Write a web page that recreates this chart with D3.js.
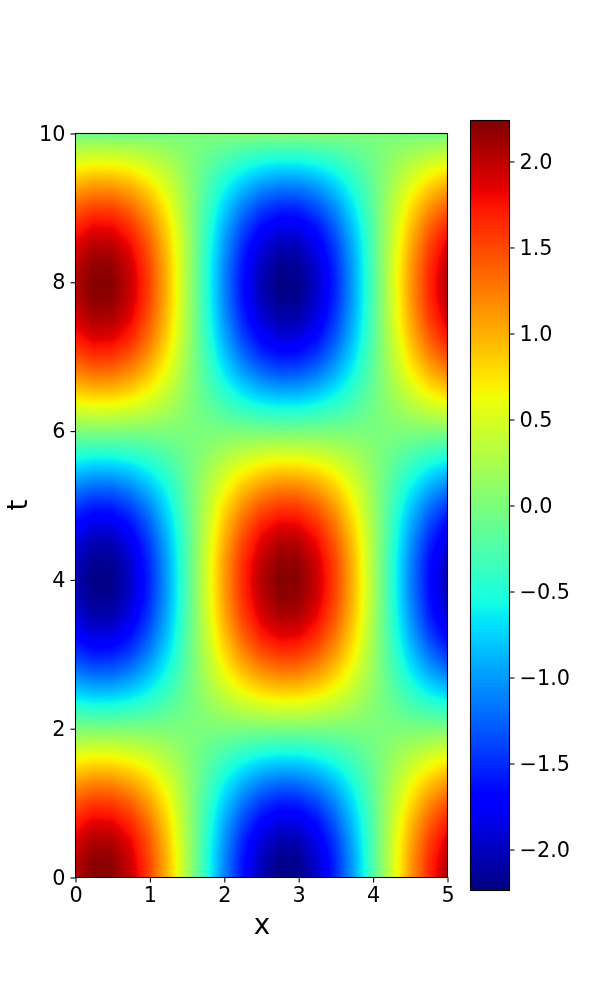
<!DOCTYPE html>
<html>
<head>
<meta charset="utf-8">
<script src="https://cdnjs.cloudflare.com/ajax/libs/d3/7.8.5/d3.min.js"></script>
<style>
  html, body { margin: 0; padding: 0; background: #fff; }
  #chart { position: relative; width: 600px; height: 1000px; }
  #chart canvas, #chart svg { position: absolute; left: 0; top: 0; }
  text { font-family: "DejaVu Sans", sans-serif; fill: #000; }
</style>
</head>
<body>
<div id="chart"></div>
<script>
const xGrid = [0, 0.25, 0.5, 0.75, 1, 1.25, 1.5, 1.75, 2, 2.25, 2.5, 2.75, 3, 3.25, 3.5, 3.75, 4, 4.25, 4.5, 4.75, 5];
const tGrid = d3.range(41).map(k => k / 4);
const xTicks = [0, 1, 2, 3, 4, 5];
const tTicks = [0, 2, 4, 6, 8, 10];
const barTicks = [-2, -1.5, -1, -0.5, 0, 0.5, 1, 1.5, 2];
const valueRange = [-2.238, 2.238];

// one row per t, bottom of the plot first
const field = [
  [2.03,2.22,2.20,1.96,1.53,.95,.28,-.42,-1.08,-1.63,-2.03,-2.22,-2.20,-1.96,-1.53,-.95,-.28,.42,1.08,1.63,2.03],
  [1.99,2.18,2.16,1.92,1.50,.94,.27,-.41,-1.06,-1.60,-1.99,-2.18,-2.16,-1.92,-1.50,-.94,-.27,.41,1.06,1.60,1.99],
  [1.87,2.05,2.03,1.81,1.42,.88,.26,-.39,-1.00,-1.51,-1.87,-2.05,-2.03,-1.81,-1.42,-.88,-.26,.39,1.00,1.51,1.87],
  [1.68,1.84,1.82,1.63,1.27,.79,.23,-.35,-.90,-1.35,-1.68,-1.84,-1.82,-1.63,-1.27,-.79,-.23,.35,.90,1.35,1.68],
  [1.43,1.57,1.55,1.38,1.08,.67,.20,-.30,-.76,-1.15,-1.43,-1.57,-1.55,-1.38,-1.08,-.67,-.20,.30,.76,1.15,1.43],
  [1.12,1.23,1.21,1.08,.85,.53,.15,-.23,-.60,-.90,-1.12,-1.23,-1.21,-1.08,-.85,-.53,-.15,.23,.60,.90,1.12],
  [.77,.84,.83,.74,.58,.36,.11,-.16,-.41,-.62,-.77,-.84,-.83,-.74,-.58,-.36,-.11,.16,.41,.62,.77],
  [.38,.42,.42,.37,.29,.18,.05,-.08,-.20,-.31,-.38,-.42,-.42,-.37,-.29,-.18,-.05,.08,.20,.31,.38],
  [-.01,-.02,-.02,-.01,-.01,-.01,0,0,.01,.01,.01,.02,.02,.01,.01,.01,0,0,-.01,-.01,-.01],
  [-.41,-.45,-.45,-.40,-.31,-.19,-.06,.08,.22,.33,.41,.45,.45,.40,.31,.19,.06,-.08,-.22,-.33,-.41],
  [-.79,-.87,-.86,-.77,-.60,-.37,-.11,.16,.42,.64,.79,.87,.86,.77,.60,.37,.11,-.16,-.42,-.64,-.79],
  [-1.14,-1.25,-1.24,-1.11,-.86,-.54,-.16,.24,.61,.92,1.14,1.25,1.24,1.11,.86,.54,.16,-.24,-.61,-.92,-1.14],
  [-1.45,-1.59,-1.57,-1.40,-1.09,-.68,-.20,.30,.77,1.16,1.45,1.59,1.57,1.40,1.09,.68,.20,-.30,-.77,-1.16,-1.45],
  [-1.70,-1.86,-1.84,-1.64,-1.28,-.80,-.23,.35,.90,1.37,1.70,1.86,1.84,1.64,1.28,.80,.23,-.35,-.90,-1.37,-1.70],
  [-1.88,-2.06,-2.04,-1.82,-1.42,-.89,-.26,.39,1.00,1.52,1.88,2.06,2.04,1.82,1.42,.89,.26,-.39,-1.00,-1.52,-1.88],
  [-1.99,-2.18,-2.16,-1.93,-1.51,-.94,-.28,.41,1.06,1.60,1.99,2.18,2.16,1.93,1.51,.94,.28,-.41,-1.06,-1.60,-1.99],
  [-2.03,-2.22,-2.20,-1.96,-1.53,-.95,-.28,.42,1.08,1.63,2.03,2.22,2.20,1.96,1.53,.95,.28,-.42,-1.08,-1.63,-2.03],
  [-1.98,-2.17,-2.15,-1.92,-1.50,-.93,-.27,.41,1.06,1.60,1.98,2.17,2.15,1.92,1.50,.93,.27,-.41,-1.06,-1.60,-1.98],
  [-1.86,-2.04,-2.02,-1.80,-1.41,-.88,-.26,.38,.99,1.50,1.86,2.04,2.02,1.80,1.41,.88,.26,-.38,-.99,-1.50,-1.86],
  [-1.67,-1.83,-1.81,-1.61,-1.26,-.78,-.23,.34,.89,1.34,1.67,1.83,1.81,1.61,1.26,.78,.23,-.34,-.89,-1.34,-1.67],
  [-1.41,-1.54,-1.53,-1.36,-1.07,-.66,-.19,.29,.75,1.13,1.41,1.54,1.53,1.36,1.07,.66,.19,-.29,-.75,-1.13,-1.41],
  [-1.09,-1.20,-1.19,-1.06,-.83,-.52,-.15,.23,.58,.88,1.09,1.20,1.19,1.06,.83,.52,.15,-.23,-.58,-.88,-1.09],
  [-.74,-.81,-.80,-.72,-.56,-.35,-.10,.15,.39,.60,.74,.81,.80,.72,.56,.35,.10,-.15,-.39,-.60,-.74],
  [-.35,-.39,-.38,-.34,-.27,-.17,-.05,.07,.19,.29,.35,.39,.38,.34,.27,.17,.05,-.07,-.19,-.29,-.35],
  [.04,.05,.05,.04,.03,.02,.01,-.01,-.02,-.03,-.04,-.05,-.05,-.04,-.03,-.02,-.01,.01,.02,.03,.04],
  [.44,.48,.47,.42,.33,.21,.06,-.09,-.23,-.35,-.44,-.48,-.47,-.42,-.33,-.21,-.06,.09,.23,.35,.44],
  [.82,.89,.89,.79,.62,.38,.11,-.17,-.43,-.66,-.82,-.89,-.89,-.79,-.62,-.38,-.11,.17,.43,.66,.82],
  [1.16,1.28,1.26,1.13,.88,.55,.16,-.24,-.62,-.94,-1.16,-1.28,-1.26,-1.13,-.88,-.55,-.16,.24,.62,.94,1.16],
  [1.47,1.61,1.59,1.42,1.11,.69,.20,-.30,-.78,-1.18,-1.47,-1.61,-1.59,-1.42,-1.11,-.69,-.20,.30,.78,1.18,1.47],
  [1.71,1.88,1.86,1.66,1.30,.81,.24,-.35,-.91,-1.38,-1.71,-1.88,-1.86,-1.66,-1.30,-.81,-.24,.35,.91,1.38,1.71],
  [1.89,2.07,2.05,1.83,1.43,.89,.26,-.39,-1.01,-1.52,-1.89,-2.07,-2.05,-1.83,-1.43,-.89,-.26,.39,1.01,1.52,1.89],
  [2.00,2.19,2.17,1.93,1.51,.94,.28,-.41,-1.06,-1.61,-2.00,-2.19,-2.17,-1.93,-1.51,-.94,-.28,.41,1.06,1.61,2.00],
  [2.03,2.22,2.20,1.96,1.53,.95,.28,-.42,-1.08,-1.63,-2.03,-2.22,-2.20,-1.96,-1.53,-.95,-.28,.42,1.08,1.63,2.03],
  [1.97,2.16,2.14,1.91,1.49,.93,.27,-.41,-1.05,-1.59,-1.97,-2.16,-2.14,-1.91,-1.49,-.93,-.27,.41,1.05,1.59,1.97],
  [1.85,2.02,2.00,1.79,1.40,.87,.26,-.38,-.98,-1.49,-1.85,-2.02,-2.00,-1.79,-1.40,-.87,-.26,.38,.98,1.49,1.85],
  [1.65,1.81,1.79,1.60,1.25,.78,.23,-.34,-.88,-1.33,-1.65,-1.81,-1.79,-1.60,-1.25,-.78,-.23,.34,.88,1.33,1.65],
  [1.39,1.52,1.51,1.34,1.05,.65,.19,-.29,-.74,-1.12,-1.39,-1.52,-1.51,-1.34,-1.05,-.65,-.19,.29,.74,1.12,1.39],
  [1.07,1.17,1.16,1.04,.81,.50,.15,-.22,-.57,-.86,-1.07,-1.17,-1.16,-1.04,-.81,-.50,-.15,.22,.57,.86,1.07],
  [.71,.78,.77,.69,.54,.34,.10,-.15,-.38,-.57,-.71,-.78,-.77,-.69,-.54,-.34,-.10,.15,.38,.57,.71],
  [.33,.36,.35,.32,.25,.15,.05,-.07,-.17,-.26,-.33,-.36,-.35,-.32,-.25,-.15,-.05,.07,.17,.26,.33],
  [-.07,-.08,-.08,-.07,-.05,-.03,-.01,.01,.04,.06,.07,.08,.08,.07,.05,.03,.01,-.01,-.04,-.06,-.07],
];

// jet colour map, channel break points
const jetR = { at: [0, 0.35, 0.66, 0.89, 1], to: [0, 0, 255, 255, 127.5] };
const jetG = { at: [0, 0.125, 0.375, 0.64, 0.91, 1], to: [0, 0, 255, 255, 0, 0] };
const jetB = { at: [0, 0.11, 0.34, 0.65, 1], to: [127.5, 255, 255, 0, 0] };

const plot = { left: 75.5, right: 447.5, top: 133.5, bottom: 877.5 };
const bar = { left: 470.5, right: 509.5, top: 120.5, bottom: 890.5 };

const xScale = d3.scaleLinear().domain([0, 5]).range([plot.left, plot.right]);
const tScale = d3.scaleLinear().domain([0, 10]).range([plot.bottom, plot.top]);
const barScale = d3.scaleLinear().domain(valueRange).range([bar.bottom, bar.top]);
const norm = d3.scaleLinear().domain(valueRange).range([0, 1]).clamp(true);
const r = d3.scaleLinear().domain(jetR.at).range(jetR.to);
const g = d3.scaleLinear().domain(jetG.at).range(jetG.to);
const b = d3.scaleLinear().domain(jetB.at).range(jetB.to);
const jet = f => [r(f), g(f), b(f)];

const chart = d3.select('#chart');

// heat map, shaded between grid nodes like a gouraud pcolormesh
const canvas = chart.append('canvas')
    .attr('width', 600)
    .attr('height', 1000);
const ctx = canvas.node().getContext('2d');
const pw = Math.round(plot.right - plot.left);
const ph = Math.round(plot.bottom - plot.top);
const img = ctx.createImageData(pw, ph);

function valueAt(x, t) {
  const i = Math.min(d3.bisectRight(xGrid, x) - 1, xGrid.length - 2);
  const j = Math.min(d3.bisectRight(tGrid, t) - 1, tGrid.length - 2);
  const u = (x - xGrid[i]) / (xGrid[i + 1] - xGrid[i]);
  const v = (t - tGrid[j]) / (tGrid[j + 1] - tGrid[j]);
  const low = d3.interpolateNumber(field[j][i], field[j][i + 1])(u);
  const high = d3.interpolateNumber(field[j + 1][i], field[j + 1][i + 1])(u);
  return d3.interpolateNumber(low, high)(v);
}

for (let py = 0; py < ph; py++) {
  for (let px = 0; px < pw; px++) {
    const x = xScale.invert(plot.left + px + 0.5);
    const t = tScale.invert(plot.top + py + 0.5);
    const c = jet(norm(valueAt(x, t)));
    const k = (py * pw + px) * 4;
    img.data[k] = c[0];
    img.data[k + 1] = c[1];
    img.data[k + 2] = c[2];
    img.data[k + 3] = 255;
  }
}
ctx.putImageData(img, plot.left, plot.top);

const svg = chart.append('svg')
    .attr('width', 600)
    .attr('height', 1000)
    .attr('viewBox', [0, 0, 600, 1000]);

// colour bar, 256 levels like the colormap
const levels = d3.range(256);
const levelY = d3.scaleLinear().domain([0, 256]).range([bar.bottom, bar.top]);
svg.append('g')
    .attr('shape-rendering', 'crispEdges')
  .selectAll('rect')
  .data(levels)
  .join('rect')
    .attr('x', bar.left)
    .attr('width', bar.right - bar.left)
    .attr('y', d => levelY(d + 1))
    .attr('height', d => levelY(d) - levelY(d + 1) + 0.5)
    .attr('fill', d => `rgb(${jet((d + 0.5) / 256).map(Math.round).join(',')})`);

function styleAxis(g) {
  g.selectAll('.tick line').attr('stroke', '#000').attr('stroke-width', 1.1);
  g.selectAll('.tick text')
    .style('font-family', '"DejaVu Sans", sans-serif')
    .style('font-size', '20.8px');
  g.select('.domain').remove();
}

svg.append('g')
    .attr('transform', `translate(0,${plot.bottom})`)
    .call(d3.axisBottom(xScale).tickValues(xTicks).tickSize(5).tickPadding(5).tickFormat(d3.format('d')))
    .call(styleAxis);

svg.append('g')
    .attr('transform', `translate(${plot.left},0)`)
    .call(d3.axisLeft(tScale).tickValues(tTicks).tickSize(5).tickPadding(5).tickFormat(d3.format('d')))
    .call(styleAxis);

svg.append('g')
    .attr('transform', `translate(${bar.right},0)`)
    .call(d3.axisRight(barScale).tickValues(barTicks).tickSize(5).tickPadding(5).tickFormat(d3.format('.1f')))
    .call(styleAxis);

svg.append('rect')
    .attr('x', plot.left)
    .attr('y', plot.top)
    .attr('width', plot.right - plot.left)
    .attr('height', plot.bottom - plot.top)
    .attr('fill', 'none')
    .attr('stroke', '#000')
    .attr('stroke-width', 1.1);

svg.append('rect')
    .attr('x', bar.left)
    .attr('y', bar.top)
    .attr('width', bar.right - bar.left)
    .attr('height', bar.bottom - bar.top)
    .attr('fill', 'none')
    .attr('stroke', '#000')
    .attr('stroke-width', 1.1);

svg.append('text')
    .attr('x', 262)
    .attr('y', 934)
    .attr('text-anchor', 'middle')
    .style('font-size', '27.8px')
    .text('x');

svg.append('text')
    .attr('transform', 'translate(27,505) rotate(-90)')
    .attr('text-anchor', 'middle')
    .style('font-size', '27.8px')
    .text('t');
</script>
</body>
</html>
